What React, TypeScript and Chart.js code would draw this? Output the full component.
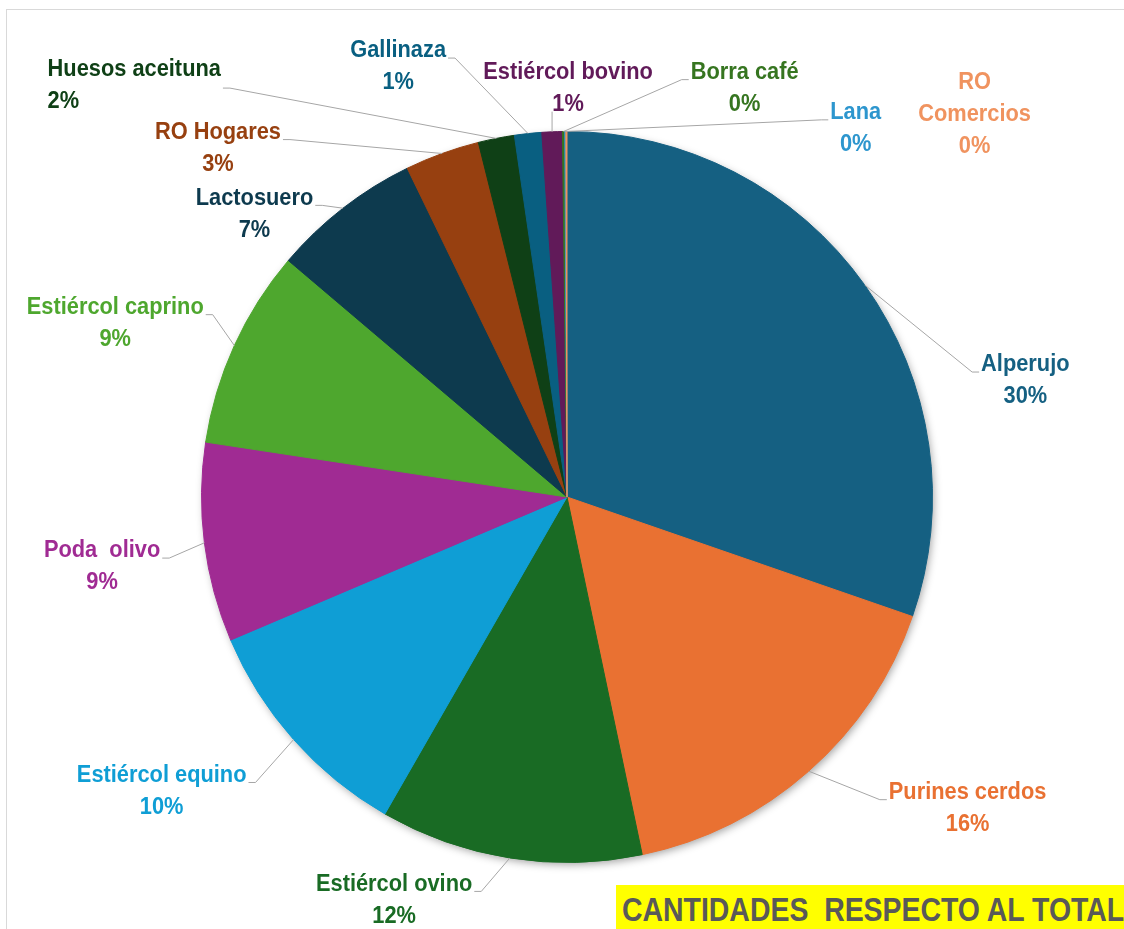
import React, { useEffect, useRef } from "react";
import { Chart, registerables } from "chart.js";

Chart.register(...registerables);

// ---- data ----
const categories: string[] = [
  "Alperujo",
  "Purines cerdos",
  "Estiércol ovino",
  "Estiércol equino",
  "Poda  olivo",
  "Estiércol caprino",
  "Lactosuero",
  "RO Hogares",
  "Huesos aceituna",
  "Gallinaza",
  "Estiércol bovino",
  "Borra café",
  "Lana",
  "RO Comercios",
];

const shares: number[] = [30.3, 16.4, 11.6, 10.3, 8.8, 8.8, 6.6, 3.3, 1.6, 1.2, 0.9, 0.1, 0.05, 0.05];

const sliceColors: string[] = [
  "#156082",
  "#E97132",
  "#196B24",
  "#0F9ED5",
  "#A02B93",
  "#4EA72E",
  "#0D3A4E",
  "#974010",
  "#0F4016",
  "#095F81",
  "#611A59",
  "#367520",
  "#2D96CE",
  "#F0935F",
];

const chartTitle = "CANTIDADES  RESPECTO AL TOTAL";

// ---- label layout (relative to pie centre, in units of the pie radius) ----
const labelOffsets: [number, number][] = [
  [1.254, -0.32],
  [1.096, 0.85],
  [-0.473, 1.101],
  [-1.109, 0.803],
  [-1.272, 0.189],
  [-1.236, -0.477],
  [-0.855, -0.776],
  [-0.955, -0.956],
  [-1.184, -1.127],
  [-0.462, -1.179],
  [0.003, -1.12],
  [0.486, -1.12],
  [0.79, -1.01],
  [1.115, -1.048],
];
const labelLeftAligned: number[] = [8];
const labelWrapped: number[] = [13];
const noLeader: number[] = [13];
const leaderMidAnchor: number[] = [8];

const LABEL_FONT = "bold 23px 'Liberation Sans', Arial, sans-serif";
const LINE_H = 32;

const labelPlugin = {
  id: "sliceLabels",
  beforeDatasetsDraw(chart: any) {
    const meta = chart.getDatasetMeta(0);
    const a0 = meta.data[0];
    if (!a0) return;
    const { x, y, outerRadius } = a0.getProps(["x", "y", "outerRadius"], true);
    const ctx = chart.ctx;
    ctx.save();
    ctx.shadowColor = "rgba(0,0,0,0.38)";
    ctx.shadowBlur = 9;
    ctx.shadowOffsetX = 2;
    ctx.shadowOffsetY = 3;
    ctx.beginPath();
    ctx.arc(x, y, outerRadius - 1, 0, Math.PI * 2);
    ctx.fillStyle = "#5a6a70";
    ctx.fill();
    ctx.restore();
  },
  afterDatasetsDraw(chart: any) {
    const ctx = chart.ctx;
    const meta = chart.getDatasetMeta(0);
    const values: number[] = chart.data.datasets[0].data;
    const total = values.reduce((s, v) => s + v, 0);
    ctx.save();
    ctx.font = LABEL_FONT;
    const ref = ctx.measureText("Alperujo").width + ctx.measureText("Lactosuero").width;
    const sx = (88 + 118) / ref;
    ctx.textBaseline = "middle";

    meta.data.forEach((arc: any, i: number) => {
      const p = arc.getProps(["x", "y", "startAngle", "endAngle", "outerRadius"], true);
      const R = p.outerRadius;
      const mid = (p.startAngle + p.endAngle) / 2;
      const ex = p.x + Math.cos(mid) * R;
      const ey = p.y + Math.sin(mid) * R;
      const cx = p.x + labelOffsets[i][0] * R;
      const cy = p.y + labelOffsets[i][1] * R;
      const name = chart.data.labels[i] as string;
      const nameLines = labelWrapped.includes(i) ? name.split(" ") : [name];
      const pct = Math.round((values[i] / total) * 100) + "%";
      const lines = [...nameLines, pct];
      const widths = lines.map((l) => ctx.measureText(l).width * sx);
      const maxW = Math.max(...widths);
      const boxL = cx - maxW / 2;
      const boxR = cx + maxW / 2;
      const firstY = cy - ((lines.length - 1) * LINE_H) / 2;
      const lastY = firstY + (lines.length - 1) * LINE_H;
      const left = labelLeftAligned.includes(i);

      // leader line
      if (!noLeader.includes(i)) {
        ctx.beginPath();
        ctx.strokeStyle = "#A6A6A6";
        ctx.lineWidth = 1;
        const ay = leaderMidAnchor.includes(i) ? cy + 3 : firstY + 8;
        if (ex < boxL) {
          ctx.moveTo(ex, ey);
          ctx.lineTo(boxL - 9, ay);
          ctx.lineTo(boxL - 2, ay);
        } else if (ex > boxR) {
          ctx.moveTo(ex, ey);
          ctx.lineTo(boxR + 9, ay);
          ctx.lineTo(boxR + 2, ay);
        } else {
          ctx.moveTo(ex, ey);
          ctx.lineTo(ex, lastY + 8);
        }
        ctx.stroke();
      }

      ctx.fillStyle = sliceColors[i];
      lines.forEach((l, k) => {
        ctx.save();
        const ty = firstY + k * LINE_H + 1;
        if (left) {
          ctx.translate(boxL, ty);
          ctx.scale(sx, 1);
          ctx.textAlign = "left";
        } else {
          ctx.translate(cx, ty);
          ctx.scale(sx, 1);
          ctx.textAlign = "center";
        }
        ctx.fillText(l, 0, 0);
        ctx.restore();
      });
    });
    ctx.restore();
  },
};

export default function App() {
  const canvasRef = useRef<HTMLCanvasElement | null>(null);

  useEffect(() => {
    if (!canvasRef.current) return;
    const chart = new Chart(canvasRef.current, {
      type: "pie",
      data: {
        labels: categories,
        datasets: [
          {
            data: shares,
            backgroundColor: sliceColors,
            borderColor: sliceColors,
            borderWidth: 1,
          },
        ],
      },
      options: {
        responsive: false,
        animation: false,
        layout: { padding: { left: 201, top: 131, right: 191, bottom: 66 } },
        plugins: {
          legend: { display: false },
          tooltip: { enabled: false },
          title: { display: false },
        },
      },
      plugins: [labelPlugin],
    } as any);
    return () => chart.destroy();
  }, []);

  return (
    <div
      style={{
        position: "fixed",
        left: 0,
        top: 0,
        width: 1124,
        height: 929,
        overflow: "hidden",
        background: "#ffffff",
      }}
    >
      <div
        style={{
          position: "absolute",
          left: 6,
          top: 9,
          width: 1200,
          height: 1000,
          border: "1px solid #D9D9D9",
        }}
      />
      <canvas
        ref={canvasRef}
        width={1124}
        height={929}
        style={{ position: "absolute", left: 0, top: 0, width: 1124, height: 929 }}
      />
      <div
        style={{
          position: "absolute",
          left: 616,
          top: 885,
          width: 508,
          height: 44,
          background: "#FFFF00",
          overflow: "hidden",
        }}
      >
        <span
          style={{
            position: "absolute",
            left: 6,
            top: 1,
            display: "inline-block",
            color: "#595959",
            fontFamily: "'Liberation Sans', Arial, sans-serif",
            fontWeight: "bold",
            fontSize: 34,
            lineHeight: "46px",
            whiteSpace: "pre",
            transform: "scaleX(0.836)",
            transformOrigin: "left center",
          }}
        >
          {chartTitle}
        </span>
      </div>
    </div>
  );
}
